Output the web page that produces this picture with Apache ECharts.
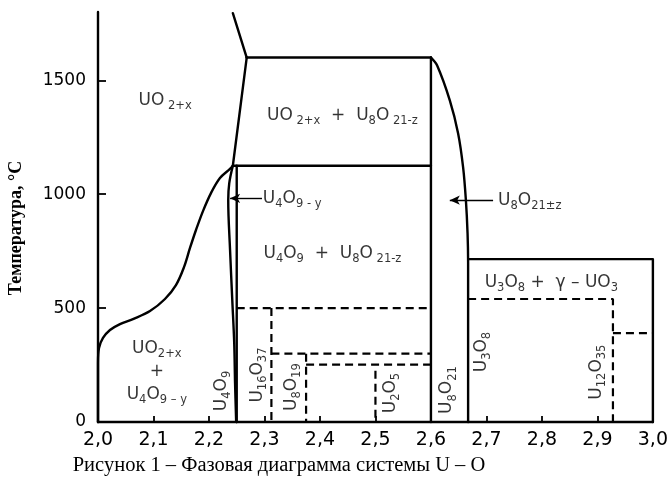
<!DOCTYPE html>
<html>
<head>
<meta charset="utf-8">
<script src="https://cdn.jsdelivr.net/npm/echarts@6/dist/echarts.min.js"></script>
<style>
  html, body { margin: 0; padding: 0; background: #fff; }
  #chart { width: 671px; height: 482px; }
</style>
</head>
<body>
<div id="chart"></div>
<script>
// Phase boundaries of the U–O system: [O/U ratio, temperature °C]
const upperLiquidus   = [[2.243, 1795], [2.268, 1600]];
const uo2PhaseEdge    = [[2.268, 1600], [2.243, 1125]];
const peritectic1600  = [[2.268, 1600], [2.6, 1600]];
const eutectoid1125   = [[2.243, 1125], [2.6, 1125]];
const u8o21LeftEdge   = [[2.6, 1600], [2.6, 0]];
const u8o21RightEdge  = [[2.6, 1600], [2.611, 1566], [2.634, 1412], [2.649, 1267], [2.658, 1118], [2.663, 974], [2.666, 829], [2.667, 700], [2.667, 0]];
const uo2Solvus       = [[2.0, 0], [2.0, 259], [2.0018, 325], [2.009, 369], [2.0216, 404], [2.0396, 430], [2.063, 452], [2.0937, 487], [2.1207, 540], [2.1405, 601], [2.155, 680], [2.1658, 764], [2.1766, 843], [2.1892, 926], [2.2036, 1005], [2.2198, 1071], [2.2378, 1111], [2.2432, 1125]];
const u4o9LensEdge    = [[2.243, 1125], [2.2365, 1048], [2.2347, 974], [2.238, 754], [2.242, 535], [2.2455, 346], [2.247, 171], [2.249, 0]];
const u4o9Line        = [[2.25, 1125], [2.25, 0]];
const u3o8Box         = [[2.667, 715], [3.0, 715], [3.0, 0]];

// Ordered low-temperature phases (dashed)
const dashed500       = [[2.25, 500], [2.6, 500]];
const dashedU16O37    = [[2.3125, 500], [2.3125, 0]];
const dashed300       = [[2.3125, 300], [2.6, 300]];
const dashedU8O19     = [[2.375, 300], [2.375, 0]];
const dashed250       = [[2.375, 252], [2.6, 252]];
const dashedU2O5      = [[2.5, 225], [2.5, 0]];
const dashedU12O35    = [[2.667, 540], [2.928, 540], [2.928, 0]];
const dashed390       = [[2.928, 390], [3.0, 390]];

// Pointer arrows: [tail, tip]
const arrowU4O9y  = [[2.2955, 982], [2.238, 982]];
const arrowU8O21z = [[2.712, 974], [2.634, 974]];

// Region labels (centred)
const regionLabels = [
  { at: [2.121, 1412], text: '{m|UO}{s| 2+x}' },
  { at: [2.4405, 1346], text: '{m|UO}{s| 2+x}{m|  +  U}{s|8}{m|O}{s| 21-z}' },
  { at: [2.4225, 741], text: '{m|U}{s|4}{m|O}{s|9}{m|  +  U}{s|8}{m|O}{s| 21-z}' },
  { at: [2.817, 614], text: '{m|U}{s|3}{m|O}{s|8}{m| +  γ – UO}{s|3}' },
  { at: [2.106, 223], text: '{m|UO}{s|2+x}\n{m|+}\n{m|U}{s|4}{m|O}{s|9 – y}' }
];
// Labels attached to arrows (left aligned)
const arrowLabels = [
  { at: [2.297, 982], text: '{m|U}{s|4}{m|O}{s|9 - y}' },
  { at: [2.721, 974], text: '{m|U}{s|8}{m|O}{s|21±z}' }
];
// Compound labels written vertically
const compoundLabels = [
  { at: [2.222, 136], text: '{m|U}{s|4}{m|O}{s|9}' },
  { at: [2.288, 206], text: '{m|U}{s|16}{m|O}{s|37}' },
  { at: [2.348, 153], text: '{m|U}{s|8}{m|O}{s|19}' },
  { at: [2.528, 127], text: '{m|U}{s|2}{m|O}{s|5}' },
  { at: [2.629, 140], text: '{m|U}{s|8}{m|O}{s|21}' },
  { at: [2.692, 307], text: '{m|U}{s|3}{m|O}{s|8}' },
  { at: [2.899, 219], text: '{m|U}{s|12}{m|O}{s|35}' }
];

const yTickValues  = [500, 1000, 1500];
const yLabelValues = [0, 500, 1000, 1500];
const yTitle  = 'Температура, °C';
const caption = 'Рисунок 1 – Фазовая диаграмма системы U – O';

const SANS = '"DejaVu Sans", sans-serif';
const SERIF = '"Liberation Serif", "Times New Roman", serif';
const INK = '#000';

const rich = {
  m: { fontSize: 17, fontFamily: SANS, color: INK, lineHeight: 23 },
  s: { fontSize: 11.5, fontFamily: SANS, color: INK, lineHeight: 14, verticalAlign: 'bottom' }
};

function solid(data, smooth) {
  return {
    type: 'line', data: data, symbol: 'none', silent: true, clip: false,
    smooth: smooth ? 0.35 : false,
    lineStyle: { color: INK, width: 2.4, cap: 'round', join: 'round' }
  };
}
function dashed(data) {
  return {
    type: 'line', data: data, symbol: 'none', silent: true, clip: false,
    lineStyle: { color: INK, width: 2.2, type: [8, 5] }
  };
}
function arrow(pair) {
  return {
    type: 'line', data: [], silent: true,
    markLine: {
      silent: true, symbol: ['none', 'arrow'], symbolSize: [7, 10],
      label: { show: false },
      lineStyle: { color: INK, width: 1.4, type: 'solid' },
      data: [[{ coord: pair[0] }, { coord: pair[1] }]]
    }
  };
}
function labels(list, opts) {
  return {
    type: 'scatter', symbolSize: 0, silent: true, z: 5,
    data: list.map(function (d) {
      return { value: d.at, label: { formatter: d.text } };
    }),
    label: Object.assign({ show: true, rich: rich, color: INK }, opts)
  };
}

const chart = echarts.init(document.getElementById('chart'), null, { renderer: 'canvas' });
chart.setOption({
  animation: false,
  backgroundColor: '#fff',
  grid: { left: 98, right: 18, top: 12, bottom: 60 },
  xAxis: {
    type: 'value', min: 2, max: 3, interval: 0.1,
    axisLine: { lineStyle: { color: INK, width: 2.4 } },
    axisTick: { inside: true, length: 6, lineStyle: { color: INK, width: 1.8 } },
    splitLine: { show: false },
    axisLabel: {
      color: INK, fontSize: 19, fontFamily: SANS, margin: 9,
      formatter: function (v) { return v.toFixed(1).replace('.', ','); }
    }
  },
  yAxis: {
    type: 'value', min: 0, max: 1800, interval: 500,
    axisLine: { show: true, lineStyle: { color: INK, width: 2.4 } },
    axisTick: { inside: true, length: 8, customValues: yTickValues, lineStyle: { color: INK, width: 1.8 } },
    splitLine: { show: false },
    axisLabel: {
      color: INK, fontSize: 17, fontFamily: SANS, margin: 12, customValues: yLabelValues,
      formatter: function (v) { return String(v); }
    }
  },
  graphic: [
    {
      type: 'text', x: 16, y: 228, rotation: Math.PI / 2,
      style: { text: yTitle, fontSize: 18, fontWeight: 'bold', fontFamily: SERIF, fill: INK, align: 'center', verticalAlign: 'middle' }
    },
    {
      type: 'text', x: 279, y: 466,
      style: { text: caption, fontSize: 20.5, fontFamily: SERIF, fill: INK, align: 'center', verticalAlign: 'middle' }
    }
  ],
  series: [
    solid(upperLiquidus), solid(uo2PhaseEdge), solid(peritectic1600), solid(eutectoid1125),
    solid(u8o21LeftEdge), solid(u8o21RightEdge, true), solid(uo2Solvus, true),
    solid(u4o9LensEdge, true), solid(u4o9Line), solid(u3o8Box),
    dashed(dashed500), dashed(dashedU16O37), dashed(dashed300), dashed(dashedU8O19),
    dashed(dashed250), dashed(dashedU2O5), dashed(dashedU12O35), dashed(dashed390),
    arrow(arrowU4O9y), arrow(arrowU8O21z),
    labels(regionLabels, { position: 'inside', align: 'center', verticalAlign: 'middle' }),
    labels(arrowLabels, { position: 'right', distance: 0 }),
    labels(compoundLabels, { position: 'inside', rotate: 90 })
  ]
});
</script>
</body>
</html>
